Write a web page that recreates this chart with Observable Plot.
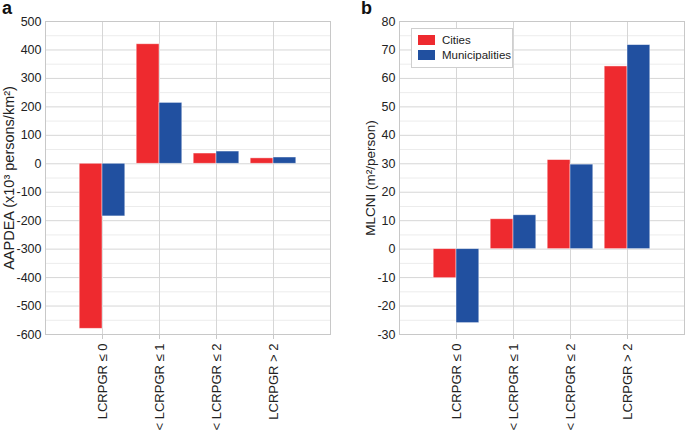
<!DOCTYPE html>
<html>
<head>
<meta charset="utf-8">
<script src="https://cdn.jsdelivr.net/npm/d3@7"></script>
<script src="https://cdn.jsdelivr.net/npm/@observablehq/plot@0.6"></script>
<style>
  html, body { margin: 0; padding: 0; background: #fff; }
  #wrap { position: relative; width: 685px; height: 433px; overflow: hidden; font-family: "Liberation Sans", Arial, sans-serif; }
  .panel { position: absolute; top: 0; }
  .letter { position: absolute; font-weight: bold; font-size: 18px; color: #111; }
  .legend { position: absolute; left: 411px; top: 28px; width: 102px; height: 40px; border: 1px solid #cfcfcf; background: #fff; box-sizing: border-box; font-size: 11.5px; color: #222; }
  .legend .row { position: absolute; left: 6px; display: flex; align-items: center; }
  .legend .sw { width: 17px; height: 10px; margin-right: 7px; }
</style>
</head>
<body>
<div id="wrap">
  <div class="panel" id="pa" style="left:0px"></div>
  <div class="panel" id="pb" style="left:340px"></div>
  <div class="letter" style="left:2px;top:-2px">a</div>
  <div class="letter" style="left:361px;top:-2px">b</div>
  <div class="legend">
    <div class="row" style="top:5px"><div class="sw" style="background:#ee2a2f"></div>Cities</div>
    <div class="row" style="top:20px"><div class="sw" style="background:#2150a0"></div>Municipalities</div>
  </div>
</div>
<script>
const categories = ["LCRPGR \u2264 0", "0 < LCRPGR \u2264 1", "1 < LCRPGR \u2264 2", "LCRPGR > 2"];
const series = ["Cities", "Municipalities"];
const colors = ["#ee2a2f", "#2150a0"];
const aapdeaCities = [-580, 420, 36, 19];
const aapdeaMunicipalities = [-185, 214, 43, 22];
const mlcniCities = [-10.2, 10.5, 31.3, 64.2];
const mlcniMunicipalities = [-26, 11.9, 29.7, 71.7];

function rows(a, b) {
  const out = [];
  categories.forEach((c, i) => {
    out.push({cat: c, idx: i + 1, series: series[0], k: 0, value: a[i]});
    out.push({cat: c, idx: i + 1, series: series[1], k: 1, value: b[i]});
  });
  return out;
}

function panel({data, width, marginLeft, marginRight, yDomain, yStep, label, labelOffset, labelSize}) {
  const minor = d3.range(yDomain[0], yDomain[1] + yStep / 4, yStep / 2);
  const major = d3.range(yDomain[0], yDomain[1] + yStep / 4, yStep);
  return Plot.plot({
    width, height: 433,
    marginLeft, marginRight, marginTop: 21, marginBottom: 99,
    style: {fontFamily: "'Liberation Sans', Arial, sans-serif", fontSize: "12.5px", color: "#222", background: "transparent"},
    x: {type: "linear", domain: [0, 5], axis: null},
    y: {domain: yDomain, axis: null},
    color: {domain: series, range: colors},
    marks: [
      Plot.ruleY(minor.filter(v => v % yStep !== 0), {stroke: "#ececec", strokeWidth: 1}),
      Plot.ruleY(major, {stroke: "#d6d6d6", strokeWidth: 1}),
      Plot.ruleX([1, 2, 3, 4, 5], {stroke: "#d6d6d6", strokeWidth: 1}),
      Plot.rect(data, {
        x1: d => d.idx - 0.4 + d.k * 0.4,
        x2: d => d.idx + d.k * 0.4,
        y1: 0, y2: "value",
        fill: "series",
        stroke: "#ffffff", strokeOpacity: 0.55, strokeWidth: 0.8
      }),
      Plot.frame({stroke: "#c8c8c8"}),
      Plot.axisY(major, {
        tickSize: 0, tickPadding: 4, fontSize: 12.5,
        tickFormat: d => String(d), label: null
      }),
      Plot.axisY([], {
        tickSize: 0, fontSize: labelSize,
        label, labelAnchor: "center", labelArrow: "none", labelOffset
      }),
      Plot.axisX([1, 2, 3, 4], {
        tickFormat: i => categories[i - 1],
        tickRotate: -90, tickSize: 5, tickPadding: 4, fontSize: 13,
        stroke: "#c8c8c8", label: null
      })
    ]
  });
}

document.getElementById("pa").append(panel({
  data: rows(aapdeaCities, aapdeaMunicipalities),
  width: 342, marginLeft: 45, marginRight: 12,
  yDomain: [-600, 500], yStep: 100,
  label: "AAPDEA (x10\u00b3 persons/km\u00b2)", labelOffset: 42, labelSize: 14.5
}));
document.getElementById("pb").append(panel({
  data: rows(mlcniCities, mlcniMunicipalities),
  width: 345, marginLeft: 59, marginRight: 1,
  yDomain: [-30, 80], yStep: 10,
  label: "MLCNI (m\u00b2/person)", labelOffset: 34, labelSize: 13.5
}));
</script>
</body>
</html>
